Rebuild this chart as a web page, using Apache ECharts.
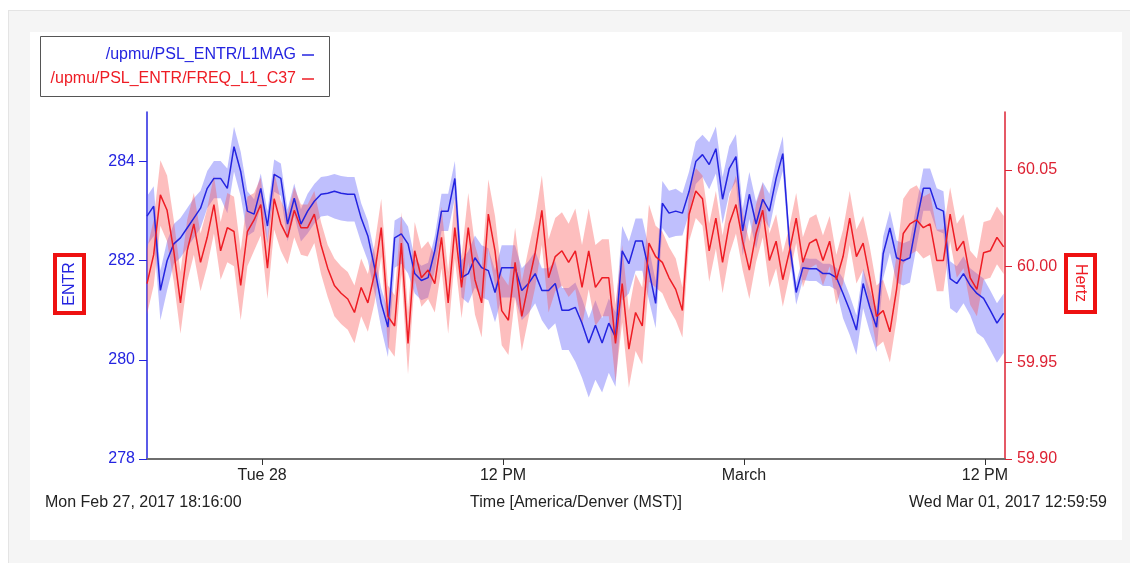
<!DOCTYPE html>
<html>
<head>
<meta charset="utf-8">
<script src="https://cdn.jsdelivr.net/npm/echarts@6/dist/echarts.min.js"></script>
<style>
	html, body { margin: 0; padding: 0; background: #fff; }
	#frame { position: absolute; left: 8px; top: 10px; width: 1122px; height: 553px; background: #f5f5f5; border-left: 1px solid #e4e4e4; border-top: 1px solid #e4e4e4; }
	#card { position: absolute; left: 30px; top: 32px; width: 1092px; height: 508px; background: #fff; }
	#main { position: absolute; left: 0; top: 0; width: 1130px; height: 563px; }
</style>
</head>
<body>
<div id="frame"></div>
<div id="card"></div>
<div id="main"></div>
<script>
// time window shown (MST)
var startTime = new Date(2017, 1, 27, 18, 16, 0).getTime();
var endTime = new Date(2017, 2, 1, 12, 59, 59).getTime();
var stepMinutes = 20;

// /upmu/PSL_ENTR/L1MAG (mean line, one value every 20 min)
var magValues = [
	282.9, 283.1, 281.4, 282.0, 282.34, 282.46, 282.66, 282.86, 283.06, 283.46,
	283.66, 283.66, 283.46, 284.3, 283.8, 283.0, 282.94, 283.46, 282.7, 283.74,
	283.66, 282.74, 283.26, 282.74, 283.0, 283.2, 283.34, 283.36, 283.4, 283.36,
	283.34, 283.34, 282.86, 282.5, 281.86, 281.14, 280.66, 282.46, 282.54, 282.34,
	281.74, 281.6, 281.66, 282.2, 283.0, 283.0, 283.66, 281.66, 281.74, 282.06,
	281.86, 281.8, 281.36, 281.86, 281.86, 281.86, 281.4, 281.54, 281.74, 281.4,
	281.4, 281.54, 281.0, 281.0, 281.06, 280.74, 280.34, 280.7, 280.34, 280.74,
	280.46, 282.2, 281.94, 282.4, 282.4, 281.8, 281.14, 283.16, 282.96, 283.0,
	282.96, 283.4, 284.0, 284.14, 283.94, 284.26, 283.24, 283.86, 284.1, 282.6,
	283.34, 282.74, 283.24, 283.0, 283.66, 284.16, 282.34, 281.36, 281.86, 281.84,
	281.84, 281.74, 281.74, 281.66, 281.34, 281.0, 280.6, 281.54, 281.06, 280.66,
	282.14, 282.66, 282.06, 282.0, 282.06, 282.8, 283.46, 283.46, 283.06, 283.0,
	281.64, 281.54, 281.74, 281.5, 281.34, 281.24, 281.0, 280.74, 280.94
];

// /upmu/PSL_ENTR/FREQ_L1_C37 (mean line, Hz)
var freqValues = [
	59.991, 60.006, 60.037, 60.029, 60.008, 59.981, 60.008, 60.022, 60.002, 60.015,
	60.032, 60.008, 60.020, 60.018, 59.990, 60.018, 60.024, 60.032, 59.999, 60.035,
	60.022, 60.015, 60.029, 60.020, 60.020, 60.027, 60.011, 59.999, 59.990, 59.986,
	59.983, 59.976, 59.989, 59.981, 59.996, 60.020, 59.974, 59.969, 60.012, 59.960,
	60.008, 59.994, 59.998, 59.991, 60.015, 59.981, 60.020, 59.989, 60.020, 59.993,
	59.981, 60.027, 60.008, 59.977, 59.972, 60.002, 59.974, 59.991, 60.007, 60.029,
	59.994, 60.005, 60.008, 60.002, 60.008, 59.989, 60.008, 59.989, 59.994, 59.994,
	59.960, 59.991, 59.957, 59.976, 59.969, 60.012, 60.005, 60.002, 59.994, 59.988,
	59.977, 60.027, 60.039, 60.035, 60.008, 60.025, 60.002, 60.022, 60.032, 60.013,
	59.998, 60.017, 60.029, 60.003, 60.013, 59.993, 60.008, 60.025, 60.002, 60.012,
	60.014, 60.003, 60.013, 59.993, 60.005, 60.025, 60.005, 60.012, 59.994, 59.974,
	59.977, 59.966, 59.988, 60.017, 60.022, 60.024, 60.020, 60.022, 60.003, 60.003,
	60.027, 60.008, 60.013, 59.994, 59.988, 60.007, 60.008, 60.015, 60.010
];

// min/max envelope, distance from the mean, one entry per 4 samples
var magUp = [.4, .4, .35, .4, .3, .3, .35, .35, .3, .35, .3, .35, .45, .45, .45, .45, .5, .5, .45, .45, .4, .45, .45, .35, .2, .2, .3, .35, .35, .4, .35, .4, .4];
var magDown = [.6, .4, .4, .5, .35, .35, .45, .55, .5, .6, .4, .4, .6, .6, .6, .8, 1.1, 1.0, .6, .5, .45, .5, .5, .35, .25, .25, .5, .5, .5, .45, .6, .8, .8];
var freqUp = [.018, .016, .015, .018, .014, .012, .012, .014, .015, .016, .015, .016, .018, .018, .018, .02, .022, .02, .02, .016, .012, .014, .015, .014, .013, .013, .014, .016, .018, .016, .014, .016, .016];
var freqDown = [.016, .016, .015, .018, .016, .014, .015, .016, .015, .016, .015, .016, .018, .018, .018, .018, .02, .02, .02, .016, .014, .016, .015, .014, .013, .013, .014, .016, .016, .016, .014, .014, .014];

// axis ticks
var leftTicks = [278, 280, 282, 284];
var rightTicks = [59.9, 59.95, 60.0, 60.05];
var xTicks = [
	new Date(2017, 1, 28, 0, 0).getTime(),
	new Date(2017, 1, 28, 12, 0).getTime(),
	new Date(2017, 2, 1, 0, 0).getTime(),
	new Date(2017, 2, 1, 12, 0).getTime()
];
var xTickLabels = ['Tue 28', '12 PM', 'March', '12 PM'];

var BLUE = '#2424e0';
var RED = '#ee1c24';
var AXIS_RED = '#dd2233';
var FONT = '"Liberation Sans", Arial, sans-serif';
var TXT = '16px ' + FONT;

var times = magValues.map(function (v, i) { return startTime + i * stepMinutes * 60000; });

function lineData(vals) {
	return vals.map(function (v, i) { return [times[i], v]; });
}

// envelope drawn as one polygon: [time, low, high] per sample, placed with api.coord
function bandSeries(name, vals, up, down, yIdx, color) {
	var data = vals.map(function (v, i) {
		var k = Math.floor(i / 4);
		return [times[i], v - down[k], v + up[k]];
	});
	return {
		name: name,
		type: 'custom',
		yAxisIndex: yIdx,
		silent: true,
		encode: { x: 0, y: [1, 2] },
		data: data,
		renderItem: function (params, api) {
			if (params.dataIndexInside !== 0) return null;
			var n = params.dataInsideLength;
			var top = [], bottom = [];
			for (var j = 0; j < n; j++) {
				top.push(api.coord([api.value(0, j), api.value(2, j)]));
				bottom.push(api.coord([api.value(0, j), api.value(1, j)]));
			}
			return {
				type: 'polygon',
				shape: { points: top.concat(bottom.reverse()) },
				style: { fill: color, stroke: 'none' }
			};
		}
	};
}

var chartDom = document.getElementById('main');
var myChart = echarts.init(chartDom);
var option;

option = {
	animation: false,
	textStyle: { fontFamily: FONT },
	grid: { left: 147, right: 125, top: 112, bottom: 104 },
	xAxis: {
		// timestamps on a plain value axis so that the tick positions can be given exactly
		type: 'value',
		min: startTime,
		max: endTime,
		axisLine: { onZero: false, lineStyle: { color: '#6e6e6e', width: 2 } },
		axisTick: { show: true, length: 6, customValues: xTicks, lineStyle: { color: '#333' } },
		axisLabel: {
			customValues: xTicks,
			color: '#222',
			fontSize: 16,
			fontFamily: FONT,
			margin: 9,
			formatter: function (v) {
				var best = 0;
				for (var i = 1; i < xTicks.length; i++) {
					if (Math.abs(xTicks[i] - v) < Math.abs(xTicks[best] - v)) best = i;
				}
				return xTickLabels[best];
			}
		},
		splitLine: { show: false }
	},
	yAxis: [
		{
			type: 'value', position: 'left', min: 278, max: 285,
			axisLine: { show: true, lineStyle: { color: BLUE, width: 1.5 } },
			axisTick: { show: true, length: 8, customValues: leftTicks, lineStyle: { color: BLUE } },
			axisLabel: { customValues: leftTicks, color: BLUE, fontSize: 16, fontFamily: FONT, margin: 12 },
			splitLine: { show: false }
		},
		{
			type: 'value', position: 'right', min: 59.9, max: 60.08,
			axisLine: { show: true, lineStyle: { color: AXIS_RED, width: 1.5 } },
			axisTick: { show: true, length: 7, customValues: rightTicks, lineStyle: { color: AXIS_RED } },
			axisLabel: {
				customValues: rightTicks, color: AXIS_RED, fontSize: 16, fontFamily: FONT, margin: 12,
				formatter: function (v) { return v.toFixed(2); }
			},
			splitLine: { show: false }
		}
	],
	series: [
		bandSeries('mag band', magValues, magUp, magDown, 0, 'rgba(95,95,250,0.40)'),
		bandSeries('freq band', freqValues, freqUp, freqDown, 1, 'rgba(250,85,85,0.38)'),
		{ name: '/upmu/PSL_ENTR/L1MAG', type: 'line', yAxisIndex: 0, data: lineData(magValues), symbol: 'none', lineStyle: { color: BLUE, width: 1.5 } },
		{ name: '/upmu/PSL_ENTR/FREQ_L1_C37', type: 'line', yAxisIndex: 1, data: lineData(freqValues), symbol: 'none', lineStyle: { color: RED, width: 1.5 } }
	],
	graphic: [
		// legend box
		{ type: 'rect', shape: { x: 40.5, y: 36.5, width: 289, height: 60 }, style: { fill: '#fff', stroke: '#555', lineWidth: 1 } },
		{ type: 'text', x: 296, y: 55, style: { text: '/upmu/PSL_ENTR/L1MAG', fill: BLUE, font: TXT, textAlign: 'right', textVerticalAlign: 'middle' } },
		{ type: 'line', shape: { x1: 302, y1: 55, x2: 314, y2: 55 }, style: { stroke: BLUE, lineWidth: 1.5 } },
		{ type: 'text', x: 296, y: 79, style: { text: '/upmu/PSL_ENTR/FREQ_L1_C37', fill: RED, font: TXT, textAlign: 'right', textVerticalAlign: 'middle' } },
		{ type: 'line', shape: { x1: 302, y1: 79, x2: 314, y2: 79 }, style: { stroke: RED, lineWidth: 1.5 } },
		// axis names
		{ type: 'rect', shape: { x: 55, y: 255, width: 29, height: 58 }, style: { fill: '#fff', stroke: '#ee1111', lineWidth: 4 } },
		{ type: 'text', x: 69.5, y: 284, rotation: Math.PI / 2, style: { text: 'ENTR', fill: BLUE, font: TXT, textAlign: 'center', textVerticalAlign: 'middle' } },
		{ type: 'rect', shape: { x: 1066, y: 255, width: 29, height: 57 }, style: { fill: '#fff', stroke: '#ee1111', lineWidth: 4 } },
		{ type: 'text', x: 1080.5, y: 283, rotation: -Math.PI / 2, style: { text: 'Hertz', fill: RED, font: TXT, textAlign: 'center', textVerticalAlign: 'middle' } },
		// time range footer
		{ type: 'text', x: 45, y: 503, style: { text: 'Mon Feb 27, 2017 18:16:00', fill: '#222', font: TXT, textAlign: 'left', textVerticalAlign: 'middle' } },
		{ type: 'text', x: 576, y: 503, style: { text: 'Time [America/Denver (MST)]', fill: '#222', font: TXT, textAlign: 'center', textVerticalAlign: 'middle' } },
		{ type: 'text', x: 1107, y: 503, style: { text: 'Wed Mar 01, 2017 12:59:59', fill: '#222', font: TXT, textAlign: 'right', textVerticalAlign: 'middle' } }
	]
};

option && myChart.setOption(option);
</script>
</body>
</html>
